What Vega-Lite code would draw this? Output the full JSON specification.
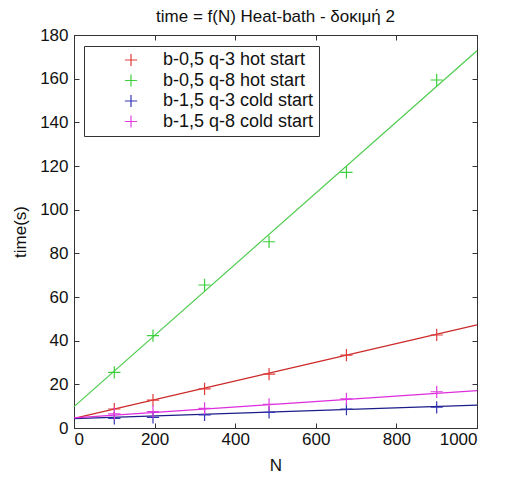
{
  "$schema": "https://vega.github.io/schema/vega-lite/v6.json",
  "width": 403,
  "height": 393,
  "autosize": {"type": "none"},
  "padding": {"left": 74, "top": 35, "right": 28, "bottom": 49},
  "background": "white",
  "title": {
    "text": "time = f(N) Heat-bath - δοκιμή 2",
    "font": "Liberation Sans",
    "fontSize": 17,
    "fontWeight": "normal",
    "color": "#111",
    "anchor": "middle",
    "offset": 0
  },
  "datasets": {
    "pts": [
      {"N": 100, "time": 8.7, "series": "b-0,5 q-3 hot start"},
      {"N": 196, "time": 12.8, "series": "b-0,5 q-3 hot start"},
      {"N": 324, "time": 17.9, "series": "b-0,5 q-3 hot start"},
      {"N": 484, "time": 24.7, "series": "b-0,5 q-3 hot start"},
      {"N": 676, "time": 33.4, "series": "b-0,5 q-3 hot start"},
      {"N": 900, "time": 42.6, "series": "b-0,5 q-3 hot start"},
      {"N": 100, "time": 25.5, "series": "b-0,5 q-8 hot start"},
      {"N": 196, "time": 42.3, "series": "b-0,5 q-8 hot start"},
      {"N": 324, "time": 65.5, "series": "b-0,5 q-8 hot start"},
      {"N": 484, "time": 85.3, "series": "b-0,5 q-8 hot start"},
      {"N": 676, "time": 117.1, "series": "b-0,5 q-8 hot start"},
      {"N": 900, "time": 159.4, "series": "b-0,5 q-8 hot start"},
      {"N": 100, "time": 4.4, "series": "b-1,5 q-3 cold start"},
      {"N": 196, "time": 4.9, "series": "b-1,5 q-3 cold start"},
      {"N": 324, "time": 6.0, "series": "b-1,5 q-3 cold start"},
      {"N": 484, "time": 7.2, "series": "b-1,5 q-3 cold start"},
      {"N": 676, "time": 8.6, "series": "b-1,5 q-3 cold start"},
      {"N": 900, "time": 9.5, "series": "b-1,5 q-3 cold start"},
      {"N": 100, "time": 6.5, "series": "b-1,5 q-8 cold start"},
      {"N": 196, "time": 7.5, "series": "b-1,5 q-8 cold start"},
      {"N": 324, "time": 9.0, "series": "b-1,5 q-8 cold start"},
      {"N": 484, "time": 10.8, "series": "b-1,5 q-8 cold start"},
      {"N": 676, "time": 13.3, "series": "b-1,5 q-8 cold start"},
      {"N": 900, "time": 16.6, "series": "b-1,5 q-8 cold start"}
    ],
    "fits": [
      {"N": 0, "time": 4.4, "series": "b-0,5 q-3 hot start"},
      {"N": 1000, "time": 47.2, "series": "b-0,5 q-3 hot start"},
      {"N": 0, "time": 9.8, "series": "b-0,5 q-8 hot start"},
      {"N": 1000, "time": 172.8, "series": "b-0,5 q-8 hot start"},
      {"N": 0, "time": 4.3, "series": "b-1,5 q-3 cold start"},
      {"N": 1000, "time": 10.5, "series": "b-1,5 q-3 cold start"},
      {"N": 0, "time": 4.6, "series": "b-1,5 q-8 cold start"},
      {"N": 1000, "time": 17.1, "series": "b-1,5 q-8 cold start"}
    ]
  },
  "config": {
    "view": {"stroke": "#333", "strokeWidth": 1},
    "font": "Liberation Sans",
    "axis": {
      "grid": false,
      "domainColor": "#333",
      "tickColor": "#333",
      "tickSize": -5,
      "labelFont": "Liberation Sans",
      "labelFontSize": 17,
      "labelColor": "#111",
      "titleFont": "Liberation Sans",
      "titleFontSize": 17,
      "titleFontWeight": "normal",
      "titleColor": "#111",
      "labelPadding": 8
    },
    "legend": {
      "labelFont": "Liberation Sans",
      "labelFontSize": 18,
      "labelColor": "#111"
    }
  },
  "layer": [
    {
      "data": {"name": "fits"},
      "mark": {"type": "line", "strokeWidth": 1.2},
      "encoding": {
        "x": {"field": "N", "type": "quantitative", "scale": {"domain": [0, 1000], "nice": false},
              "axis": {"orient": "bottom", "values": [0, 200, 400, 600, 800, 1000], "format": "d", "title": "N", "titlePadding": 10}},
        "y": {"field": "time", "type": "quantitative", "scale": {"domain": [0, 180], "nice": false},
              "axis": {"orient": "left", "values": [0, 20, 40, 60, 80, 100, 120, 140, 160, 180], "format": "d", "title": "time(s)", "titlePadding": 10, "labelPadding": 11}},
        "color": {"field": "series", "type": "nominal", "legend": null,
                  "scale": {"domain": ["b-0,5 q-3 hot start", "b-0,5 q-8 hot start", "b-1,5 q-3 cold start", "b-1,5 q-8 cold start"],
                            "range": ["#cc2a2a", "#4ccc4c", "#1c1c88", "#dd2ddd"]}},
        "detail": {"field": "series"}
      }
    },
    {
      "data": {"name": "pts"},
      "mark": {"type": "point", "shape": "M-1,0H1M0,-1V1", "filled": false, "size": 150, "strokeWidth": 1.2, "opacity": 1},
      "encoding": {
        "x": {"field": "N", "type": "quantitative",
              "axis": {"orient": "top", "values": [0, 200, 400, 600, 800, 1000], "labels": false, "title": null, "domain": false}},
        "y": {"field": "time", "type": "quantitative",
              "axis": {"orient": "right", "values": [0, 20, 40, 60, 80, 100, 120, 140, 160, 180], "labels": false, "title": null, "domain": false}},
        "color": {"field": "series", "type": "nominal",
                  "scale": {"domain": ["b-0,5 q-3 hot start", "b-0,5 q-8 hot start", "b-1,5 q-3 cold start", "b-1,5 q-8 cold start"],
                            "range": ["#e03c3c", "#3cd03c", "#3434b4", "#e03ce0"]},
                  "legend": {
                    "title": null,
                    "orient": "none",
                    "legendX": 10,
                    "legendY": 11,
                    "symbolType": "M-1,0H1M0,-1V1",
                    "symbolSize": 150,
                    "symbolStrokeWidth": 1.2,
                    "symbolFillColor": "transparent",
                    "symbolOffset": 33,
                    "labelOffset": 23,
                    "padding": 5,
                    "rowPadding": 2.5,
                    "strokeColor": "#333",
                    "fillColor": "white",
                    "labelLimit": 300
                  }}
      }
    }
  ],
  "resolve": {"scale": {"color": "independent"}}
}
